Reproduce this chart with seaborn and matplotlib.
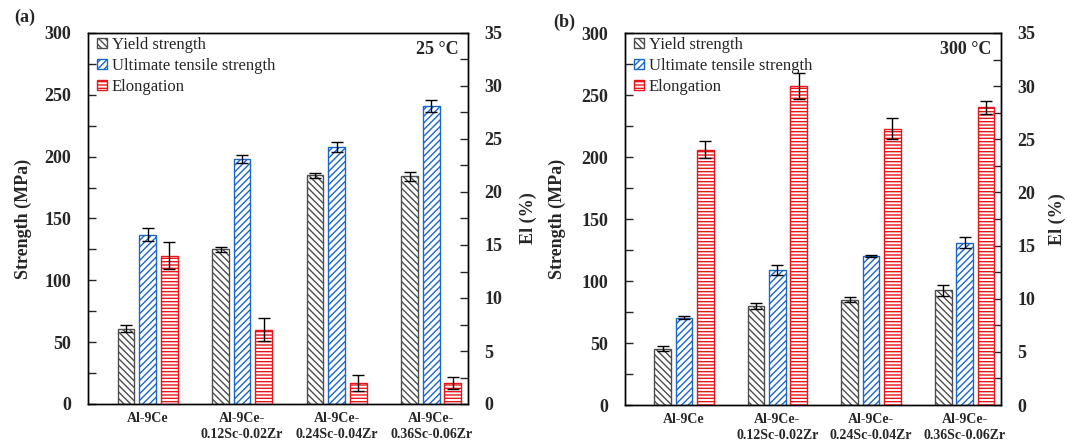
import numpy as np
import pandas as pd
import seaborn as sns
import matplotlib.pyplot as plt
from matplotlib.patches import Patch
from matplotlib.container import BarContainer

sns.set_style("white")
plt.rcParams['font.family'] = ['Liberation Serif', 'DejaVu Serif']
plt.rcParams['hatch.linewidth'] = 1.0

alloys = ["Al-9Ce", "Al-9Ce-\n0.12Sc-0.02Zr", "Al-9Ce-\n0.24Sc-0.04Zr", "Al-9Ce-\n0.36Sc-0.06Zr"]
series = ["Yield strength", "Ultimate tensile strength", "Elongation"]

# 25 °C
ys_25 = [61, 125, 185, 184]
ys_25_err = [2.5, 2, 2, 4]
uts_25 = [137, 198, 208, 241]
uts_25_err = [5, 3, 4, 5]
el_25 = [14.0, 7.0, 2.0, 2.0]
el_25_err = [1.3, 1.1, 0.75, 0.55]

# 300 °C
ys_300 = [45.5, 80, 85, 92.5]
ys_300_err = [2, 2.5, 2, 4.5]
uts_300 = [70.5, 109, 120, 131]
uts_300_err = [1.5, 4, 1, 4.5]
el_300 = [24.0, 30.0, 26.0, 28.0]
el_300_err = [0.8, 1.25, 1.0, 0.6]

colors = {"Yield strength": "#4d4d4d", "Ultimate tensile strength": "#1a66c9", "Elongation": "#e8151b"}
hatches = {"Yield strength": "\\\\\\\\\\", "Ultimate tensile strength": "/////", "Elongation": "-----"}

fig = plt.figure(figsize=(10.67, 4.42), dpi=100)

panels = [
    dict(rect=[88/1067, 38/442, 380/1067, 371/442], ys=ys_25, yse=ys_25_err, uts=uts_25, utse=uts_25_err,
         el=el_25, ele=el_25_err, temp="25 \u00b0C", tag="(a)", tagpos=(14/1067, 1-17/442),
         ylx=-0.147, y2x=1.137),
    dict(rect=[625/1067, 37/442, 376/1067, 372/442], ys=ys_300, yse=ys_300_err, uts=uts_300, utse=uts_300_err,
         el=el_300, ele=el_300_err, temp="300 \u00b0C", tag="(b)", tagpos=(553/1067, 1-22/442),
         ylx=-0.157, y2x=1.128),
]

def bar_containers(ax):
    return [c for c in ax.containers if isinstance(c, BarContainer) and len(c.patches) > 0]

def add_errors(ax, errs):
    for cont, err in errs:
        for p in cont.patches:
            xc = p.get_x() + p.get_width() / 2
            i = int(round(xc))
            ax.errorbar(xc, p.get_height(), yerr=err[i], fmt='none', ecolor='black',
                        elinewidth=1.0, capsize=4, capthick=1.0, zorder=5)

for P in panels:
    ax = fig.add_axes(P["rect"])
    df_s = pd.DataFrame({
        "alloy": alloys * 2,
        "series": ["Yield strength"] * 4 + ["Ultimate tensile strength"] * 4,
        "value": P["ys"] + P["uts"],
    })
    df_e = pd.DataFrame({"alloy": alloys, "series": ["Elongation"] * 4, "value": P["el"]})

    sns.barplot(data=df_s, x="alloy", y="value", hue="series", hue_order=series, order=alloys,
                palette=colors, fill=False, width=0.684, gap=0.22, errorbar=None, legend=False,
                dodge=True, linewidth=1.0, ax=ax)
    ax2 = ax.twinx()
    sns.barplot(data=df_e, x="alloy", y="value", hue="series", hue_order=series, order=alloys,
                palette=colors, fill=False, width=0.684, gap=0.22, errorbar=None, legend=False,
                dodge=True, linewidth=1.0, ax=ax2)

    c1 = bar_containers(ax)
    c2 = bar_containers(ax2)
    for cont, name in zip(c1, series[:2]):
        for p in cont.patches:
            p.set_hatch(hatches[name])
    for cont in c2:
        for p in cont.patches:
            p.set_hatch(hatches["Elongation"])

    add_errors(ax, [(c1[0], P["yse"]), (c1[1], P["utse"])])
    add_errors(ax2, [(c2[0], P["ele"])])

    for a in (ax, ax2):
        a.set_xlim(-0.63, 3.39)
    ax.set_ylim(0, 300)
    ax2.set_ylim(0, 35)
    ax.set_yticks(np.arange(0, 301, 50))
    ax.set_yticks(np.arange(25, 300, 50), minor=True)
    ax2.set_yticks(np.arange(0, 36, 5))
    ax2.set_yticks(np.arange(2.5, 35, 5), minor=True)
    ax.tick_params(axis='y', which='major', direction='in', length=6, width=1, labelsize=13, pad=12)
    ax.tick_params(axis='y', which='minor', direction='in', length=6, width=1)
    ax2.tick_params(axis='y', which='major', direction='in', length=6, width=1, labelsize=13, pad=12,
                    left=False, right=True)
    ax2.tick_params(axis='y', which='minor', direction='in', length=6, width=1, left=False, right=True)
    ax.tick_params(axis='x', length=0, labelsize=10, pad=6)
    ax2.tick_params(axis='x', length=0)
    for lab in ax.get_yticklabels() + ax2.get_yticklabels() + ax.get_xticklabels():
        lab.set_fontweight('bold')
    for lab in ax.get_xticklabels():
        lab.set_linespacing(1.3)
    ax.set_xlabel("")
    ax2.set_xlabel("")
    ax.set_ylabel("Strength (MPa)", fontsize=13, fontweight='bold')
    ax2.set_ylabel("El (%)", fontsize=13, fontweight='bold', rotation=90)
    ax.yaxis.set_label_coords(P["ylx"], 0.5)
    ax2.yaxis.set_label_coords(P["y2x"], 0.5)
    for a in (ax, ax2):
        for s in a.spines.values():
            s.set_color('black')
            s.set_linewidth(1.0)

    handles = [Patch(facecolor='white', edgecolor=colors[n], hatch=hatches[n], linewidth=1.0, label=n)
               for n in series]
    ax2.legend(handles=handles, loc='upper left', bbox_to_anchor=(0.005, 1.008), frameon=False,
               fontsize=12, handlelength=0.6, handleheight=0.6, handletextpad=0.3,
               labelspacing=0.3, borderaxespad=0.3, borderpad=0.1)
    ax2.text(0.975, 0.978, P["temp"], transform=ax2.transAxes, ha='right', va='top',
             fontsize=13, fontweight='bold')
    fig.text(P["tagpos"][0], P["tagpos"][1], P["tag"], ha='left', va='center', fontsize=13,
             fontweight='bold')

fig.savefig("out.png", dpi=100)
